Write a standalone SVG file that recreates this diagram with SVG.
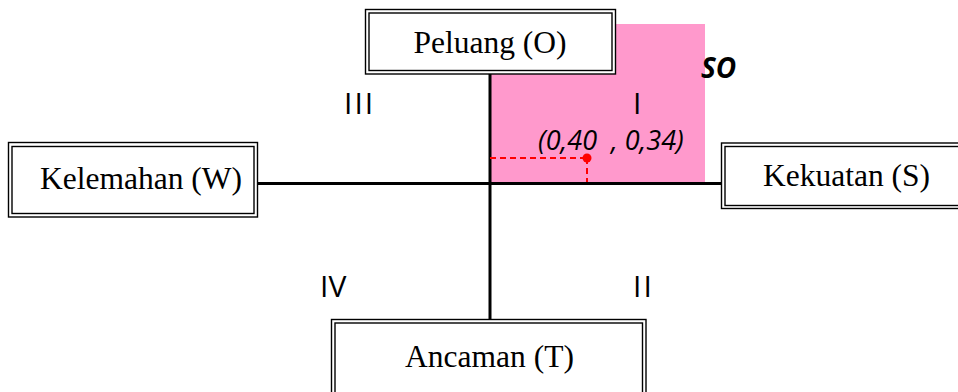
<svg xmlns="http://www.w3.org/2000/svg" width="958" height="392" viewBox="0 0 958 392">
<style>
.box{fill:#fff;stroke:#000;stroke-width:1.4}
.inner{fill:none;stroke:#000;stroke-width:1.4}
.lbl{font-family:"Liberation Serif","Times New Roman",serif;font-size:31.5px;fill:#000;text-anchor:middle}
.num{font-family:"Open Sans","Liberation Sans",sans-serif;font-size:30px;fill:#000}
.axis{stroke:#000;stroke-width:3;fill:none}
.dash{stroke:#f00;stroke-width:2;stroke-dasharray:6,4;fill:none}
</style>
<rect x="490" y="24" width="215" height="160" fill="#ff99cc"/>
<g id="connectors">
<line class="axis" x1="490" y1="74" x2="490" y2="320"/>
<line class="axis" x1="258" y1="183.5" x2="721" y2="183.5"/>
<line class="dash" x1="490" y1="158" x2="587" y2="158"/>
<line class="dash" x1="587" y1="158" x2="587" y2="182"/>
<circle cx="587" cy="158" r="4.5" fill="#f00"/>
</g>
<g id="peluang">
<rect class="box" x="365.5" y="9.5" width="250" height="64.5"/>
<rect class="inner" x="369" y="13" width="243" height="57.5"/>
<text class="lbl" x="490" y="53">Peluang (O)</text>
</g>
<g id="kelemahan">
<rect class="box" x="8.5" y="142.5" width="249" height="74.5"/>
<rect class="inner" x="12" y="146.5" width="242" height="67"/>
<text class="lbl" x="141" y="189">Kelemahan (W)</text>
</g>
<g id="kekuatan">
<rect class="box" x="721.5" y="143" width="250" height="65.5"/>
<rect class="inner" x="725" y="146.5" width="250" height="59"/>
<text class="lbl" x="846.5" y="186">Kekuatan (S)</text>
</g>
<g id="ancaman">
<rect class="box" x="331.5" y="319.5" width="314.5" height="90"/>
<rect class="inner" x="335" y="323" width="307.5" height="90"/>
<text class="lbl" x="489.5" y="367">Ancaman (T)</text>
</g>
<g id="labels">
<text class="num" x="344" y="114" letter-spacing="2">III</text>
<text class="num" x="633" y="114">I</text>
<text class="num" x="320" y="297">IV</text>
<text class="num" x="633" y="297" letter-spacing="2">II</text>
<text x="701" y="78" font-family="Open Sans,Liberation Sans,sans-serif" font-size="28" font-weight="bold" font-style="italic">SO</text>
<text x="538" y="150" font-family="Open Sans,Liberation Sans,sans-serif" font-size="27" font-style="italic" xml:space="preserve">(0,40  , 0,34)</text>
</g>
</svg>
